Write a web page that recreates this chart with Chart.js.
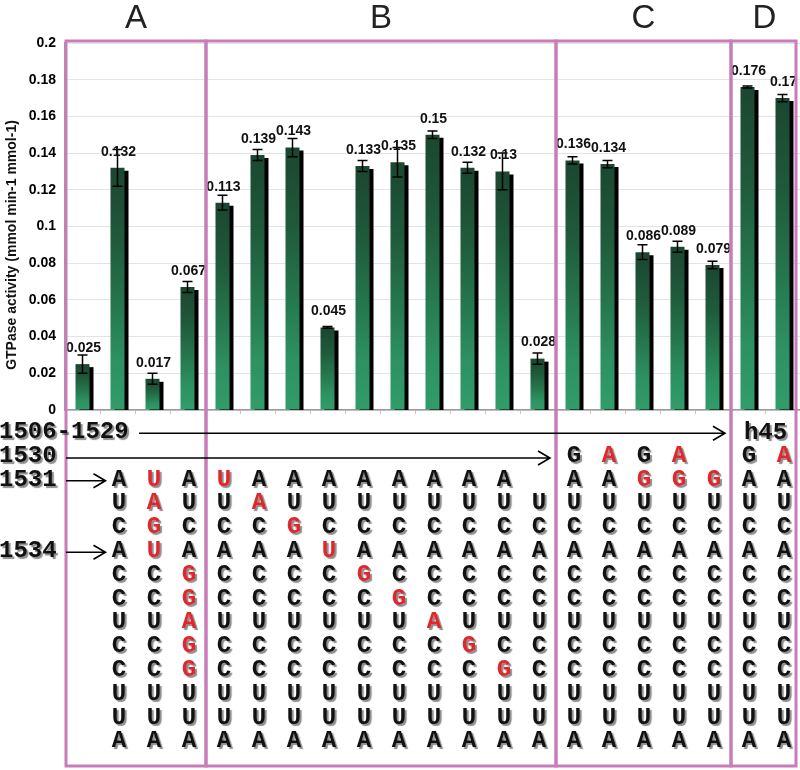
<!DOCTYPE html>
<html><head><meta charset="utf-8">
<script src="https://cdn.jsdelivr.net/npm/chart.js@4.4.1/dist/chart.umd.min.js"></script>
<style>
html,body{margin:0;padding:0;background:#fff;}
#wrap{position:relative;width:800px;height:770px;overflow:hidden;background:#fff;}
#c{position:absolute;left:0;top:0;}
.nt{position:absolute;font-family:"Liberation Mono","Courier New",monospace;font-weight:bold;font-size:24px;line-height:24px;color:#111;text-shadow:2px 2px 1px rgba(0,0,0,0.45);transform:translate(-50%,-50%);white-space:nowrap;}
.red{color:#e3262b;}
.lbl{position:absolute;font-family:"Liberation Mono","Courier New",monospace;font-weight:bold;font-size:24px;line-height:24px;color:#111;text-shadow:2px 2px 1px rgba(0,0,0,0.45);transform:translateY(-50%);white-space:nowrap;}
.grp{position:absolute;font-family:"Liberation Sans",Arial,sans-serif;font-size:33px;line-height:33px;color:#222;transform:translate(-50%,-50%);}
</style></head>
<body>
<div id="wrap"><canvas id="c" width="800" height="770"></canvas></div>
<script>
// ---- data ----
const groups = ['A', 'B', 'C', 'D'];
const groupSizes = [4, 10, 5, 2];
const categories = ['A1','A2','A3','A4','B1','B2','B3','B4','B5','B6','B7','B8','B9','B10','C1','C2','C3','C4','C5','D1','D2'];
const values = [0.025, 0.132, 0.017, 0.067,
                0.113, 0.139, 0.143, 0.045, 0.133, 0.135, 0.15, 0.132, 0.13, 0.028,
                0.136, 0.134, 0.086, 0.089, 0.079,
                0.176, 0.17];
const errors = [0.005, 0.010, 0.003, 0.003,
                0.004, 0.003, 0.005, 0.0005, 0.003, 0.008, 0.002, 0.003, 0.010, 0.003,
                0.002, 0.002, 0.004, 0.003, 0.002,
                0.0005, 0.002];
const yTickLabels = ['0','0.02','0.04','0.06','0.08','0.1','0.12','0.14','0.16','0.18','0.2'];
const yTitle = 'GTPase activity (mmol min-1 mmol-1)';
// sequences: row 1530 then rows 1531..1542; lowercase = mutated (red), space = blank
const sequences = [
  '',
  ' AUCACCUCCUUA',
  ' uaguCCUCCUUA',
  ' AUCAggaggUUA',
  ' uUCACCUCCUUA',
  ' AaCACCUCCUUA',
  ' AUgACCUCCUUA',
  ' AUCuCCUCCUUA',
  ' AUCAgCUCCUUA',
  ' AUCACgUCCUUA',
  ' AUCACCaCCUUA',
  ' AUCACCUgCUUA',
  ' AUCACCUCgUUA',
  '  UCACCUCCUUA',
  'GAUCACCUCCUUA',
  'aAUCACCUCCUUA',
  'GgUCACCUCCUUA',
  'agUCACCUCCUUA',
  ' gUCACCUCCUUA',
  'GAUCACCUCCUUA',
  'aAUCACCUCCUUA'
];
const rowLabels = ['1506-1529', '1530', '1531', '1534'];
const rowLabelRows = [-1, 0, 1, 4];
const helixLabel = 'h45';

// ---- styling helpers ----
const SANS = '"Liberation Sans", Arial, sans-serif';
const rowY = r => 455 + r * 23.8;
const BOX_TOP = 41, BOX_BOTTOM = 766, BOX_COLOR = '#c97cba';

function barGradient(c) {
  const chart = c.chart;
  const {ctx, chartArea, scales} = chart;
  if (!chartArea || c.type !== 'data') return '#2a8a5c';
  const top = scales.y.getPixelForValue(values[c.dataIndex]);
  const bottom = scales.y.getPixelForValue(0);
  const g = ctx.createLinearGradient(0, top, 0, bottom);
  g.addColorStop(0, '#1b4631');
  g.addColorStop(0.3, '#1f5a3b');
  g.addColorStop(0.6, '#267a4f');
  g.addColorStop(0.8, '#2d9162');
  g.addColorStop(1, '#319c6a');
  return g;
}

function groupBounds(chart) {
  const xs = chart.scales.x;
  const half = (xs.getPixelForValue(1) - xs.getPixelForValue(0)) / 2;
  const b = [];
  let k = 0;
  b.push(xs.getPixelForValue(0) - half);
  groupSizes.forEach(n => { k += n; b.push(xs.getPixelForValue(k) - half); });
  return b;
}

const barShadow = {
  id: 'barShadow',
  beforeDatasetsDraw(chart) {
    const {ctx, chartArea: a} = chart;
    ctx.save();
    ctx.beginPath();
    ctx.rect(a.left, a.top, a.right - a.left, a.bottom - a.top);
    ctx.clip();
    ctx.shadowColor = '#000';
    ctx.shadowOffsetX = 4;
    ctx.shadowOffsetY = 3;
    ctx.shadowBlur = 0;
  },
  afterDatasetsDraw(chart) { chart.ctx.restore(); }
};

const annotations = {
  id: 'annotations',
  afterDraw(chart) {
    const {ctx} = chart;
    const ys = chart.scales.y;
    const meta = chart.getDatasetMeta(0);
    // error bars
    ctx.save();
    ctx.strokeStyle = '#000';
    ctx.lineWidth = 1.5;
    meta.data.forEach((bar, i) => {
      const x = bar.x;
      const yT = ys.getPixelForValue(values[i] + errors[i]);
      const yB = ys.getPixelForValue(values[i] - errors[i]);
      ctx.beginPath();
      ctx.moveTo(x, yT); ctx.lineTo(x, yB);
      ctx.moveTo(x - 5, yT); ctx.lineTo(x + 5, yT);
      ctx.moveTo(x - 5, yB); ctx.lineTo(x + 5, yB);
      ctx.stroke();
    });
    // value labels
    ctx.fillStyle = '#111';
    ctx.font = 'bold 14px ' + SANS;
    ctx.textAlign = 'center';
    ctx.textBaseline = 'middle';
    meta.data.forEach((bar, i) => {
      ctx.fillText(String(values[i]), bar.x + 1, ys.getPixelForValue(values[i]) - 16);
    });
    // y title
    ctx.save();
    ctx.translate(12, 245);
    ctx.rotate(-Math.PI / 2);
    ctx.font = 'bold 14px ' + SANS;
    ctx.fillText(yTitle, 0, 0);
    ctx.restore();
    // group boxes
    const b = groupBounds(chart);
    const bx = b.map((v, i) => i === b.length - 1 ? Math.min(v, 797) - 1 : v + 1);
    ctx.strokeStyle = BOX_COLOR;
    ctx.lineWidth = 3;
    for (let g = 0; g < groups.length; g++) {
      ctx.strokeRect(bx[g], BOX_TOP, bx[g + 1] - bx[g], BOX_BOTTOM - BOX_TOP);
    }
    // arrows
    ctx.strokeStyle = '#000';
    ctx.lineWidth = 1.6;
    const arrow = (x1, x2, y) => {
      ctx.beginPath();
      ctx.moveTo(x1, y); ctx.lineTo(x2, y);
      ctx.moveTo(x2 - 12, y - 7); ctx.lineTo(x2, y); ctx.lineTo(x2 - 12, y + 7);
      ctx.stroke();
    };
    const xs = chart.scales.x;
    arrow(139, bx[3] - 6, rowY(-1) + 2);
    arrow(bx[0], bx[2] - 6, rowY(0) + 3);
    arrow(bx[0], xs.getPixelForValue(1) - 12, rowY(1) + 2);
    arrow(bx[0], xs.getPixelForValue(1) - 12, rowY(4) + 2);
    ctx.restore();
  }
};

const chart = new Chart(document.getElementById('c'), {
  type: 'bar',
  data: {
    labels: categories,
    datasets: [{
      data: values,
      backgroundColor: barGradient,
      borderWidth: 0,
      barPercentage: 0.4,
      categoryPercentage: 1
    }]
  },
  options: {
    responsive: false,
    animation: false,
    layout: {padding: {top: 43, right: 0, bottom: 360, left: 0}},
    plugins: {legend: {display: false}, tooltip: {enabled: false}},
    scales: {
      x: {
        grid: {display: true, drawOnChartArea: false, drawTicks: true, tickLength: 4, color: '#c4c4c4', offset: true},
        border: {color: '#9a9a9a', width: 1.5},
        ticks: {display: false},
        afterFit(s) { s.height = 0; }
      },
      y: {
        min: 0, max: 0.2,
        ticks: {
          stepSize: 0.02, padding: 9, color: '#000',
          font: {family: SANS, size: 14, weight: 'bold'},
          callback: (v, i) => yTickLabels[i]
        },
        grid: {color: '#e3e3e3', drawTicks: false},
        border: {color: '#9a9a9a', width: 1.5},
        afterFit(s) { s.width = 65; }
      }
    }
  },
  plugins: [barShadow, annotations]
});

// ---- HTML text overlay ----
(function () {
  const wrap = document.getElementById('wrap');
  const xs = chart.scales.x;
  const b = groupBounds(chart);
  const add = (cls, text, x, y, extra) => {
    const d = document.createElement('div');
    d.className = cls + (extra ? ' ' + extra : '');
    d.textContent = text;
    d.style.left = x + 'px';
    d.style.top = y + 'px';
    wrap.appendChild(d);
  };
  groups.forEach((g, i) => {
    const right = i === groups.length - 1 ? Math.min(b[i + 1], 797) : b[i + 1];
    add('grp', g, (b[i] + right) / 2 + 1, 16);
  });
  sequences.forEach((seq, i) => {
    const x = xs.getPixelForValue(i) + 1.5;
    for (let r = 0; r < seq.length; r++) {
      const ch = seq[r];
      if (ch === ' ') continue;
      const red = ch !== ch.toUpperCase();
      add('nt', ch.toUpperCase(), x, rowY(r) + 0.7, red ? 'red' : '');
    }
  });
  rowLabels.forEach((t, i) => add('lbl', t, -1, rowY(rowLabelRows[i]) + 1));
  add('nt', helixLabel, (b[3] + Math.min(b[4], 797)) / 2 + 2, rowY(-1) + 2);
})();
</script>
</body></html>
